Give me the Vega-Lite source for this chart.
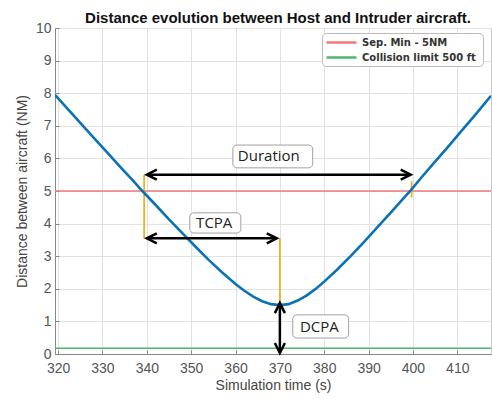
{
  "$schema": "https://vega.github.io/schema/vega-lite/v6.json",
  "width": 436,
  "height": 326,
  "autosize": {"type": "none"},
  "padding": {"left": 55, "top": 28, "right": 1, "bottom": 45},
  "background": "white",
  "title": {"text": "Distance evolution between Host and Intruder aircraft.", "font": "Liberation Sans", "fontSize": 15, "fontWeight": "bold", "color": "#111", "anchor": "middle", "dx": 5, "offset": -5},
  "config": {
    "view": {"stroke": "#c8c8c8"},
    "axis": {"labelFont": "Liberation Sans", "titleFont": "Liberation Sans", "labelFontSize": 14, "titleFontSize": 14, "labelColor": "#555", "titleColor": "#444", "titleFontWeight": "normal", "gridColor": "#e2e2e2", "domainColor": "#888", "tickColor": "#888", "tickSize": -4, "labelOverlap": false, "labelFlush": false},
    "axisY": {"values": [0, 1, 2, 3, 4, 5, 6, 7, 8, 9, 10], "labelPadding": 8, "titlePadding": 6},
    "axisX": {"values": [320, 330, 340, 350, 360, 370, 380, 390, 400, 410], "labelPadding": 11, "titlePadding": 3}
  },
  "datasets": {
    "curve": [
      {"t": 319.3, "d": 7.95}, {"t": 322, "d": 7.54}, {"t": 325, "d": 7.09}, {"t": 328, "d": 6.64},
      {"t": 331, "d": 6.19}, {"t": 334, "d": 5.74}, {"t": 337, "d": 5.30}, {"t": 339, "d": 5.00},
      {"t": 342, "d": 4.57}, {"t": 345, "d": 4.13}, {"t": 348, "d": 3.71}, {"t": 351, "d": 3.29},
      {"t": 354, "d": 2.88}, {"t": 357, "d": 2.50}, {"t": 360, "d": 2.15}, {"t": 362, "d": 1.94},
      {"t": 364, "d": 1.76}, {"t": 366, "d": 1.62}, {"t": 368, "d": 1.53}, {"t": 370, "d": 1.50},
      {"t": 372, "d": 1.53}, {"t": 374, "d": 1.64}, {"t": 376, "d": 1.79}, {"t": 378, "d": 1.99},
      {"t": 380, "d": 2.22}, {"t": 383, "d": 2.60}, {"t": 386, "d": 3.01}, {"t": 389, "d": 3.44},
      {"t": 392, "d": 3.89}, {"t": 395, "d": 4.34}, {"t": 398, "d": 4.80}, {"t": 399.5, "d": 5.02},
      {"t": 402, "d": 5.43}, {"t": 405, "d": 5.90}, {"t": 408, "d": 6.37}, {"t": 411, "d": 6.85},
      {"t": 414, "d": 7.33}, {"t": 417.6, "d": 7.92}
    ],
    "limits": [
      {"label": "Sep. Min - 5NM", "y": 5},
      {"label": "Collision limit  500 ft", "y": 0.18}
    ],
    "yellow": [
      {"t": 339.4, "y1": 5.5, "y2": 3.55},
      {"t": 399.7, "y1": 5.3, "y2": 4.8},
      {"t": 370, "y1": 3.55, "y2": 1.55}
    ],
    "shafts": [
      {"x1": 340.0, "x2": 399.5, "y1": 5.5, "y2": 5.5},
      {"x1": 340.0, "x2": 369.3, "y1": 3.55, "y2": 3.55},
      {"x1": 370, "x2": 370, "y1": 1.56, "y2": 0.03}
    ],
    "heads": [
      {"x": 340.0, "y": 5.5, "dir": "left"},
      {"x": 399.5, "y": 5.5, "dir": "right"},
      {"x": 340.0, "y": 3.55, "dir": "left"},
      {"x": 369.3, "y": 3.55, "dir": "right"},
      {"x": 370, "y": 1.56, "dir": "up"},
      {"x": 370, "y": 0.03, "dir": "down"}
    ],
    "boxes": [
      {"x1": 359.4, "x2": 377.4, "y1": 6.41, "y2": 5.71},
      {"x1": 349.7, "x2": 361.2, "y1": 4.33, "y2": 3.71},
      {"x1": 372.9, "x2": 385.5, "y1": 1.2, "y2": 0.49}
    ],
    "labels": [
      {"x": 367.5, "y": 6.06, "label": "Duration"},
      {"x": 355.2, "y": 4.02, "label": "TCPA"},
      {"x": 378.9, "y": 0.84, "label": "DCPA"}
    ]
  },
  "layer": [
    {
      "data": {"name": "limits"},
      "mark": {"type": "rule", "strokeWidth": 1.5},
      "encoding": {
        "y": {"field": "y", "type": "quantitative", "title": "Distance between aircraft (NM)", "scale": {"domain": [0, 10], "nice": false}},
        "color": {"field": "label", "type": "nominal",
          "scale": {"domain": ["Sep. Min - 5NM", "Collision limit  500 ft"], "range": ["#f07878", "#4cb86a"]},
          "legend": {"title": null, "orient": "none", "legendX": 267, "legendY": 5, "symbolType": "M -3 0 L 3 0", "symbolSize": 100, "symbolOffset": 10, "symbolStrokeWidth": 2.5, "labelFont": "DejaVu Sans", "labelFontSize": 10, "labelColor": "#333", "labelFontWeight": "bold", "fillColor": "white", "strokeColor": "#bbb", "cornerRadius": 4, "padding": 3, "rowPadding": 3, "labelOffset": 14}}
      }
    },
    {
      "data": {"name": "yellow"},
      "mark": {"type": "rule", "color": "#f0b020", "strokeWidth": 1.8},
      "encoding": {
        "x": {"field": "t", "type": "quantitative", "title": "Simulation time (s)", "scale": {"domain": [319.3, 417.6], "nice": false, "zero": false}},
        "y": {"field": "y1", "type": "quantitative", "title": "Distance between aircraft (NM)"},
        "y2": {"field": "y2"}
      }
    },
    {
      "data": {"name": "curve"},
      "mark": {"type": "line", "color": "#0a72b5", "strokeWidth": 2.6, "clip": true},
      "encoding": {
        "x": {"field": "t", "type": "quantitative", "title": "Simulation time (s)"},
        "y": {"field": "d", "type": "quantitative", "title": "Distance between aircraft (NM)"}
      }
    },
    {
      "data": {"name": "shafts"},
      "mark": {"type": "rule", "color": "black", "strokeWidth": 2.5},
      "encoding": {
        "x": {"field": "x1", "type": "quantitative", "title": "Simulation time (s)"},
        "x2": {"field": "x2"},
        "y": {"field": "y1", "type": "quantitative", "title": "Distance between aircraft (NM)"},
        "y2": {"field": "y2"}
      }
    },
    {
      "data": {"name": "heads"},
      "mark": {"type": "point", "filled": false, "stroke": "black", "strokeWidth": 2.5, "size": 400, "opacity": 1},
      "encoding": {
        "x": {"field": "x", "type": "quantitative", "title": "Simulation time (s)"},
        "y": {"field": "y", "type": "quantitative", "title": "Distance between aircraft (NM)"},
        "shape": {"field": "dir", "type": "nominal", "legend": null,
          "scale": {"domain": ["left", "right", "up", "down"],
                    "range": ["M 1 -0.5 L 0 0 L 1 0.5", "M -1 -0.5 L 0 0 L -1 0.5", "M -0.5 1 L 0 0 L 0.5 1", "M -0.5 -1 L 0 0 L 0.5 -1"]}}
      }
    },
    {
      "data": {"name": "boxes"},
      "mark": {"type": "rect", "fill": "white", "stroke": "#a0a0a0", "strokeWidth": 1, "cornerRadius": 4},
      "encoding": {
        "x": {"field": "x1", "type": "quantitative", "title": "Simulation time (s)"},
        "x2": {"field": "x2"},
        "y": {"field": "y1", "type": "quantitative", "title": "Distance between aircraft (NM)"},
        "y2": {"field": "y2"}
      }
    },
    {
      "data": {"name": "labels"},
      "mark": {"type": "text", "font": "Open Sans", "fontSize": 15, "color": "#222", "align": "center", "baseline": "middle"},
      "encoding": {
        "x": {"field": "x", "type": "quantitative", "title": "Simulation time (s)"},
        "y": {"field": "y", "type": "quantitative", "title": "Distance between aircraft (NM)"},
        "text": {"field": "label"}
      }
    }
  ]
}
